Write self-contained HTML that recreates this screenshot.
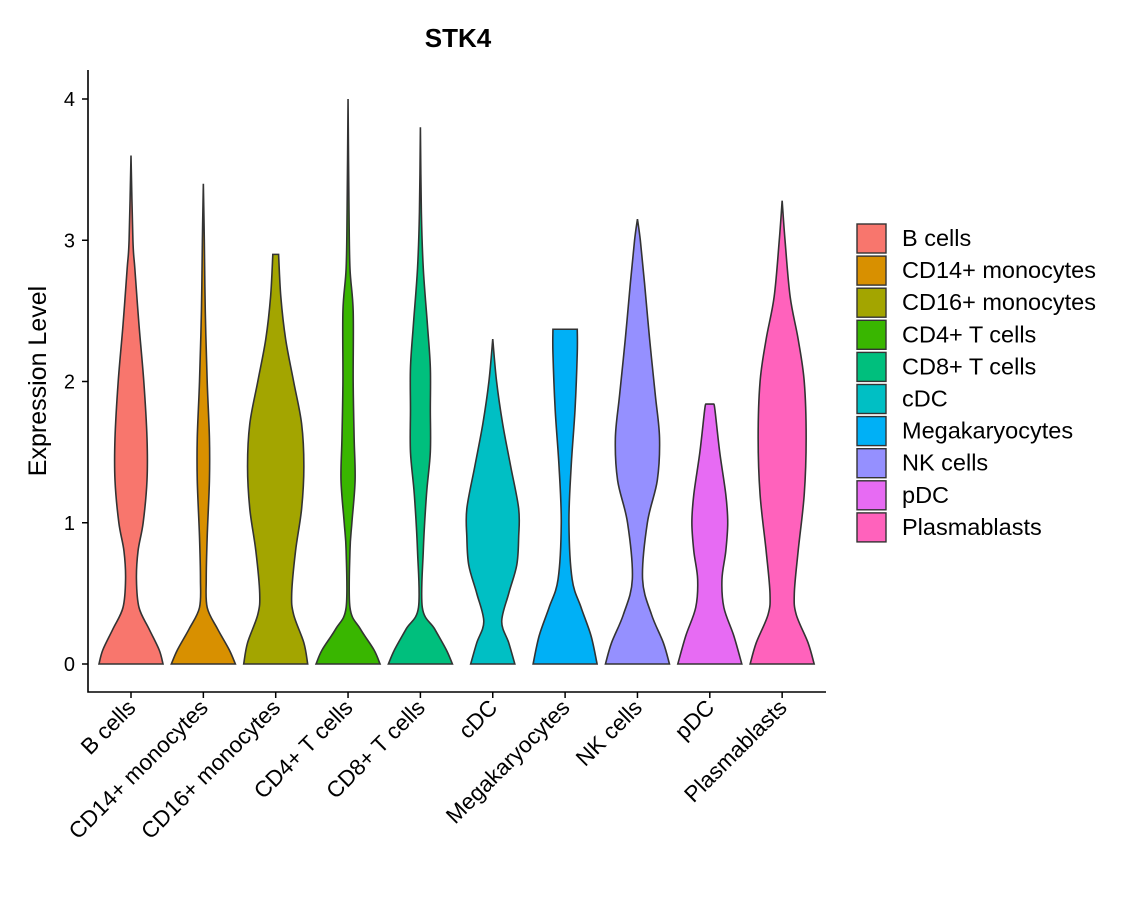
<!DOCTYPE html>
<html><head><meta charset="utf-8"><style>
html,body{margin:0;padding:0;background:#fff;}
svg{display:block;font-family:"Liberation Sans","DejaVu Sans",sans-serif;}
</style></head><body>
<svg id="chart" width="1140" height="900" viewBox="0 0 1140 900">
<text x="458" y="47" text-anchor="middle" font-size="26" font-weight="bold">STK4</text>
<text transform="translate(46,381) rotate(-90)" text-anchor="middle" font-size="25">Expression Level</text>
<g id="plot"></g>
<g id="legend"></g>
</svg>
<script>
const categories=["B cells","CD14+ monocytes","CD16+ monocytes","CD4+ T cells","CD8+ T cells","cDC","Megakaryocytes","NK cells","pDC","Plasmablasts"];
const colors=["#F8766D","#D89000","#A3A500","#39B600","#00BF7D","#00BFC4","#00B0F6","#9590FF","#E76BF3","#FF62BC"];
const yTicks=[0,1,2,3,4];
// profiles: [expression value, relative density 0..1]
const profB=[[0,1],[0.1,.88],[0.25,.56],[0.4,.25],[0.6,.17],[0.8,.22],[1.0,.38],[1.3,.5],[1.6,.5],[2.0,.4],[2.4,.25],[2.8,.12],[3.0,.06],[3.6,0]];
const profCD14=[[0,1],[0.1,.81],[0.25,.44],[0.4,.12],[0.6,.09],[0.9,.12],[1.3,.19],[1.6,.19],[2.0,.12],[2.5,.06],[3.0,.03],[3.4,0]];
const profCD16=[[0,1],[0.15,.88],[0.35,.56],[0.5,.5],[0.8,.62],[1.1,.81],[1.4,.88],[1.7,.81],[2.0,.56],[2.3,.31],[2.6,.16],[2.9,.09]];
const profCD4=[[0,1],[0.1,.81],[0.25,.38],[0.4,.06],[0.8,.06],[1.0,.12],[1.3,.22],[1.6,.19],[2.0,.16],[2.5,.16],[2.8,.06],[3.2,.03],[4.0,0]];
const profCD8=[[0,1],[0.1,.81],[0.25,.44],[0.4,.06],[0.8,.09],[1.2,.19],[1.5,.31],[1.8,.31],[2.1,.31],[2.4,.22],[2.8,.09],[3.2,.03],[3.8,0]];
const profcDC=[[0,.69],[0.15,.5],[0.3,.28],[0.5,.5],[0.7,.75],[0.9,.81],[1.1,.81],[1.4,.56],[1.7,.31],[2.0,.12],[2.3,0]];
const profMega=[[0,1],[0.2,.81],[0.4,.5],[0.6,.22],[1.0,.12],[1.4,.19],[1.8,.31],[2.2,.38],[2.37,.38]];
const profNK=[[0,1],[0.15,.81],[0.35,.44],[0.6,.16],[1.0,.31],[1.3,.62],[1.6,.69],[1.9,.56],[2.3,.38],[2.7,.22],[3.0,.09],[3.15,0]];
const profpDC=[[0,1],[0.2,.75],[0.4,.44],[0.6,.38],[0.8,.5],[1.0,.56],[1.2,.5],[1.5,.31],[1.8,.16],[1.84,.12]];
const profPlasma=[[0,1],[0.15,.81],[0.35,.44],[0.5,.38],[0.8,.5],[1.2,.69],[1.6,.75],[2.0,.69],[2.3,.5],[2.6,.25],[3.0,.09],[3.28,0]];
const profiles=[profB,profCD14,profCD16,profCD4,profCD8,profcDC,profMega,profNK,profpDC,profPlasma];

const NS="http://www.w3.org/2000/svg";
const X0=88,X1=826,Y0=692;
const y=v=>664-v*141.25;
const x=i=>131+72.35*i;
const halfW=32;
const plot=document.getElementById('plot');
function mk(tag,attrs,parent){const e=document.createElementNS(NS,tag);for(const k in attrs)e.setAttribute(k,attrs[k]);parent.appendChild(e);return e;}
function smooth(pts){let d="M"+pts[0][0]+","+pts[0][1];
 for(let i=0;i<pts.length-1;i++){const p0=pts[i-1]||pts[i],p1=pts[i],p2=pts[i+1],p3=pts[i+2]||p2;
  const c1=[p1[0]+(p2[0]-p0[0])/6,p1[1]+(p2[1]-p0[1])/6],c2=[p2[0]-(p3[0]-p1[0])/6,p2[1]-(p3[1]-p1[1])/6];
  d+=" C"+c1[0]+","+c1[1]+" "+c2[0]+","+c2[1]+" "+p2[0]+","+p2[1];}
 return d;}
profiles.forEach((prof,i)=>{
 const cx=x(i);
 const right=prof.map(p=>[cx+p[1]*halfW,y(p[0])]);
 const left=prof.slice().reverse().map(p=>[cx-p[1]*halfW,y(p[0])]);
 let d=smooth(right);
 d+=" L"+left[0][0]+","+left[0][1]+smooth(left).replace(/^M[^C]*/," ")+" Z";
 const el=mk('path',{d:d,fill:colors[i],stroke:"#333",'stroke-width':1.6},plot);
 
 
 const t=mk('line',{x1:cx,x2:cx,y1:Y0,y2:Y0+6,stroke:"#000",'stroke-width':1.5},plot);
 
 
 const lb=mk('text',{transform:`translate(${cx+6},${Y0+17}) rotate(-45)`,'text-anchor':'end','font-size':22.5},plot);
 lb.textContent=categories[i];
 
 
});
yTicks.forEach(v=>{
 const t=mk('line',{x1:X0-6,x2:X0,y1:y(v),y2:y(v),stroke:"#000",'stroke-width':1.5},plot);
 
 
 const lb=mk('text',{x:X0-13,y:y(v)+7,'text-anchor':'end','font-size':20},plot);
 lb.textContent=v;
 
 
});
const ax=mk('path',{d:`M${X0},70 L${X0},${Y0} L${X1},${Y0}`,fill:"none",stroke:"#000",'stroke-width':1.6},plot);


const lg=document.getElementById('legend');
categories.forEach((c,i)=>{
 const yy=224+i*32.1;
 const r=mk('rect',{x:857,y:yy,width:29,height:29,fill:colors[i],stroke:"#333",'stroke-width':1.4},lg);
 
 
 const t=mk('text',{x:902,y:yy+22,'font-size':23.5},lg);
 t.textContent=c;
 
 
});
</script>
</body></html>
